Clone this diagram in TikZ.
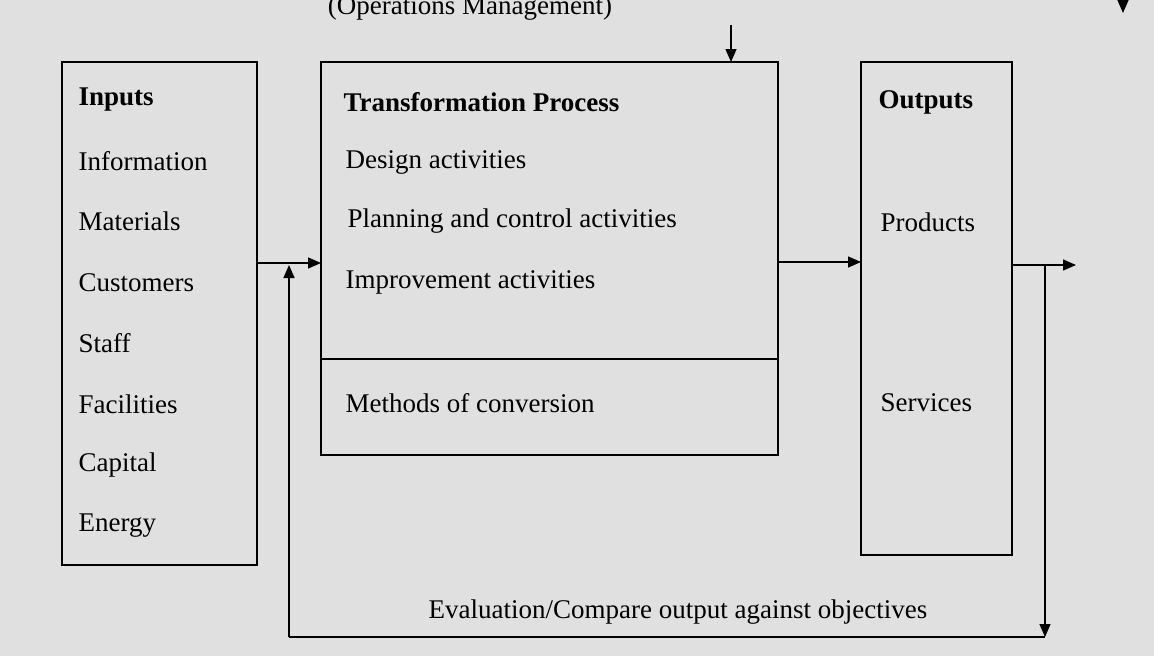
\documentclass[tikz,border=0pt]{standalone}
\usepackage{fontspec}
\setmainfont{Liberation Serif}
\usetikzlibrary{arrows.meta}

\begin{document}
\begin{tikzpicture}[
            x = 1pt, y = -1pt,
            > = {Triangle[length=13pt,width=11pt]}, % arrow head style
            line width = 1.4pt,
            box/.style = {draw, black},
            txt/.style = {anchor=west, inner sep=0pt, font=\fontsize{27}{30}\selectfont}
        ]
    \fill[black!12] (0,0) rectangle (1154,656);
    \useasboundingbox (0,0) rectangle (1154,656);

    % boxes
    \draw[box] (62,62) rectangle (257,565);
    \draw[box] (321,62) rectangle (778,455);
    \draw[box] (321,359) -- (778,359);
    \draw[box] (861,62) rectangle (1012,555);

    % texts
    \node[txt] (inp) at (78,100) {\textbf{Inputs}};
    \foreach \t [count=\i] in {Information,Materials,Customers,Staff,Facilities,Capital,Energy}
        \node[txt] (in\i) at (78,100+60.8*\i) {\t};
    \node[txt] (tp) at (343,102) {\textbf{Transformation Process}};
    \node[txt] (t1) at (345,162) {Design activities};
    \node[txt] (t2) at (347,221) {Planning and control activities};
    \node[txt] (t3) at (345,282) {Improvement activities};
    \node[txt] (mc) at (345,403) {Methods of conversion};
    \node[txt] (out) at (878,102) {\textbf{Outputs}};
    \node[txt] (pr) at (880,222) {Products};
    \node[txt] (sv) at (880,403) {Services};
    \node[txt, anchor=center] (om) at (470,8) {(Operations Management)};
    \node[txt, anchor=center] (ev) at (678,612) {Evaluation/Compare output against objectives};

    % connectors
    \coordinate (a1) at (257,263);
    \coordinate (a2) at (321,263);
    \coordinate (b1) at (778,262);
    \coordinate (b2) at (861,262);
    \coordinate (c1) at (1012,265);
    \coordinate (c2) at (1076,265);
    \coordinate (f0) at (289,637);
    \coordinate (f1) at (289,265);
    \coordinate (f2) at (1045,637);
    \coordinate (f3) at (1045,265);
    \coordinate (d1) at (731,25);
    \coordinate (d2) at (731,62);
    \coordinate (e1) at (1123,-5);
    \coordinate (e2) at (1123,13);
    \draw[->] (a1) -- (a2);
    \draw[->] (f0) -- (f1);
    \draw (f0) -- (f2);
    \draw[->] (f3) -- (f2);
    \draw[->] (b1) -- (b2);
    \draw[->] (c1) -- (c2);
    \draw[->] (d1) -- (d2);
    \draw[->] (e1) -- (e2);
\end{tikzpicture}
\end{document}
